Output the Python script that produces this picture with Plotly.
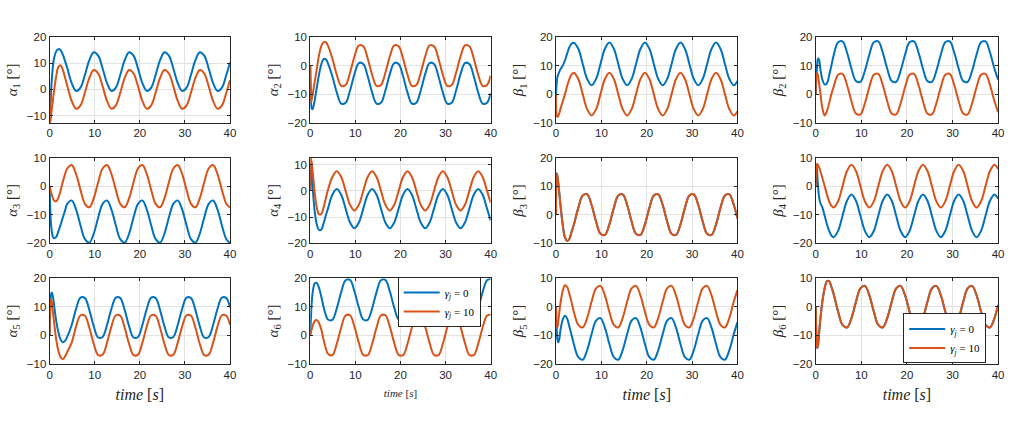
import plotly.graph_objects as go

# time samples [s]
T = [0, 0.15, 0.3, 0.5, 0.75, 1.0, 1.47, 1.96, 2.45, 2.94, 3.43, 3.92,
     4.9, 5.88, 6.86, 7.84, 8.82, 9.8, 10.78, 11.76, 12.74, 13.72, 14.7, 15.68,
     16.66, 17.64, 18.62, 19.6, 20.58, 21.56, 22.54, 23.52, 24.5, 25.48, 26.46,
     27.44, 28.42, 29.4, 30.38, 31.36, 32.34, 33.32, 34.3, 35.28, 36.26, 37.24,
     38.22, 39.2, 40]

# ---- values (degrees); _b: gamma_j = 0, _o: gamma_j = 10
alpha1_b = [0, -8, -2, 4, 9, 12, 14.6, 15.4, 15.0, 13.3, 10.8, 8.2,
            2.4, -0.6, 0.7, 5.6, 11.2, 14.2, 12.9, 8.0,
            2.4, -0.6, 0.7, 5.6, 11.2, 14.2, 12.9, 8.0,
            2.4, -0.6, 0.7, 5.6, 11.2, 14.2, 12.9, 8.0,
            2.4, -0.6, 0.7, 5.6, 11.2, 14.2, 12.9, 8.0,
            2.4, -0.6, 0.7, 5.6, 10.3]
alpha1_o = [0, -12.6, -10.5, -7.5, -4, -0.5, 5, 8.6, 9.2, 7.5, 4.5, 1.4,
            -4.4, -7.4, -6.1, -1.2, 4.4, 7.4, 6.1, 1.2,
            -4.4, -7.4, -6.1, -1.2, 4.4, 7.4, 6.1, 1.2,
            -4.4, -7.4, -6.1, -1.2, 4.4, 7.4, 6.1, 1.2,
            -4.4, -7.4, -6.1, -1.2, 4.4, 7.4, 6.1, 1.2,
            -4.4, -7.4, -6.1, -1.2, 3.5]

alpha2_b = [0, -10, -15, -15.3, -14, -12, -7.5, -3.0, 0.5, 2.3, 2.3, 0.8,
            -3.7, -9.4, -13.3, -13.0, -8.7, -3.0, 0.9, 0.6,
            -3.7, -9.4, -13.3, -13.0, -8.7, -3.0, 0.9, 0.6,
            -3.7, -9.4, -13.3, -13.0, -8.7, -3.0, 0.9, 0.6,
            -3.7, -9.4, -13.3, -13.0, -8.7, -3.0, 0.9, 0.6,
            -3.7, -9.4, -13.3, -13.0, -9.7]
alpha2_o = [0, -13, -12, -10.5, -8, -5.5, -1, 3.8, 6.8, 8.2, 8.2, 7.0,
            2.5, -3.2, -7.1, -6.8, -2.5, 3.2, 7.1, 6.8,
            2.5, -3.2, -7.1, -6.8, -2.5, 3.2, 7.1, 6.8,
            2.5, -3.2, -7.1, -6.8, -2.5, 3.2, 7.1, 6.8,
            2.5, -3.2, -7.1, -6.8, -2.5, 3.2, 7.1, 6.8,
            2.5, -3.2, -7.1, -6.8, -3.5]

beta1_b = [0, 4, 6, 7, 8, 8.8, 10, 11.8, 14.2, 16.5, 17.7, 18.0,
           15.9, 10.6, 5.3, 3.1, 5.3, 10.6, 15.9, 18.1,
           15.9, 10.6, 5.3, 3.1, 5.3, 10.6, 15.9, 18.1,
           15.9, 10.6, 5.3, 3.1, 5.3, 10.6, 15.9, 18.1,
           15.9, 10.6, 5.3, 3.1, 5.3, 10.6, 15.9, 18.1,
           15.9, 10.6, 5.3, 3.1, 4.6]
beta1_o = [0, -7.5, -8, -7.6, -6.5, -5, -2.6, 0, 2.9, 5.3, 6.9, 7.5,
           5.3, 0, -5.3, -7.5, -5.3, 0, 5.3, 7.5,
           5.3, 0, -5.3, -7.5, -5.3, 0, 5.3, 7.5,
           5.3, 0, -5.3, -7.5, -5.3, 0, 5.3, 7.5,
           5.3, 0, -5.3, -7.5, -5.3, 0, 5.3, 7.5,
           5.3, 0, -5.3, -7.5, -6.0]

beta2_b = [0, 6, 10, 12.5, 12, 9, 5, 3.4, 3.8, 6.5, 10, 13.5,
           18.2, 18.5, 14.6, 8.9, 4.6, 4.3, 8.2, 13.9,
           18.2, 18.5, 14.6, 8.9, 4.6, 4.3, 8.2, 13.9,
           18.2, 18.5, 14.6, 8.9, 4.6, 4.3, 8.2, 13.9,
           18.2, 18.5, 14.6, 8.9, 4.6, 4.3, 8.2, 13.9,
           18.2, 18.5, 14.6, 8.9, 5.1]
beta2_o = [0, 7.0, 7.4, 6.5, 3.5, 0.5, -5, -7.5, -6, -3.2, 0, 2.5,
           6.8, 7.1, 3.2, -2.5, -6.8, -7.1, -3.2, 2.5,
           6.8, 7.1, 3.2, -2.5, -6.8, -7.1, -3.2, 2.5,
           6.8, 7.1, 3.2, -2.5, -6.8, -7.1, -3.2, 2.5,
           6.8, 7.1, 3.2, -2.5, -6.8, -7.1, -3.2, 2.5,
           6.8, 7.1, 3.2, -2.5, -6.3]

alpha3_b = [0, -8, -13, -16, -17.8, -18.3, -17.8, -15.8, -13.5, -11.0, -8.5, -6.2,
            -5.0, -8.2, -13.8, -18.6, -19.8, -16.6, -11.0, -6.2,
            -5.0, -8.2, -13.8, -18.6, -19.8, -16.6, -11.0, -6.2,
            -5.0, -8.2, -13.8, -18.6, -19.8, -16.6, -11.0, -6.2,
            -5.0, -8.2, -13.8, -18.6, -19.8, -16.6, -11.0, -6.2,
            -5.0, -8.2, -13.8, -18.6, -19.9]
alpha3_o = [0, -1, -2, -3, -4.2, -5, -5.3, -4.0, -1.5, 1.5, 4.2, 6.2,
            7.4, 4.2, -1.4, -6.2, -7.4, -4.2, 1.4, 6.2,
            7.4, 4.2, -1.4, -6.2, -7.4, -4.2, 1.4, 6.2,
            7.4, 4.2, -1.4, -6.2, -7.4, -4.2, 1.4, 6.2,
            7.4, 4.2, -1.4, -6.2, -7.4, -4.2, 1.4, 6.2,
            7.4, 4.2, -1.4, -6.2, -7.5]

alpha4_b = [0, 10, 7, 2, -3.5, -8, -13, -15.0, -14.8, -12.5, -9.5, -6.8,
            -1.5, 0.7, -1.5, -6.8, -12.1, -14.3, -12.1, -6.8,
            -1.5, 0.7, -1.5, -6.8, -12.1, -14.3, -12.1, -6.8,
            -1.5, 0.7, -1.5, -6.8, -12.1, -14.3, -12.1, -6.8,
            -1.5, 0.7, -1.5, -6.8, -12.1, -14.3, -12.1, -6.8,
            -1.5, 0.7, -1.5, -6.8, -11.3]
alpha4_o = [0, 12.5, 11, 8, 3.5, -1, -6.5, -9.0, -8.8, -6.5, -3.0, 0.3,
            5.3, 7.5, 5.3, 0, -5.3, -7.5, -5.3, 0,
            5.3, 7.5, 5.3, 0, -5.3, -7.5, -5.3, 0,
            5.3, 7.5, 5.3, 0, -5.3, -7.5, -5.3, 0,
            5.3, 7.5, 5.3, 0, -5.3, -7.5, -5.3, 0,
            5.3, 7.5, 5.3, 0, -4.5]

beta3_b = [0, 14.5, 13.5, 11, 7, 3, -3.5, -8, -9.2, -8.5, -6.0, -3.5,
           2.4, 6.7, 7.1, 3.4, -2.4, -6.7, -7.1, -3.4,
           2.4, 6.7, 7.1, 3.4, -2.4, -6.7, -7.1, -3.4,
           2.4, 6.7, 7.1, 3.4, -2.4, -6.7, -7.1, -3.4,
           2.4, 6.7, 7.1, 3.4, -2.4, -6.7, -7.1, -3.4,
           2.4, 6.7, 7.1, 3.4, -1.3]
beta3_o = [0, 14.5, 13.5, 11, 7, 3, -3.5, -8, -9.2, -8.5, -6.0, -3.5,
           2.4, 6.7, 7.1, 3.4, -2.4, -6.7, -7.1, -3.4,
           2.4, 6.7, 7.1, 3.4, -2.4, -6.7, -7.1, -3.4,
           2.4, 6.7, 7.1, 3.4, -2.4, -6.7, -7.1, -3.4,
           2.4, 6.7, 7.1, 3.4, -2.4, -6.7, -7.1, -3.4,
           2.4, 6.7, 7.1, 3.4, -1.3]

beta4_b = [0, 7.5, 5, 0, -4, -5.8, -7.5, -10.4, -13.3, -15.7, -17.3, -17.9,
           -15.7, -10.4, -5.1, -2.9, -5.1, -10.4, -15.7, -17.9,
           -15.7, -10.4, -5.1, -2.9, -5.1, -10.4, -15.7, -17.9,
           -15.7, -10.4, -5.1, -2.9, -5.1, -10.4, -15.7, -17.9,
           -15.7, -10.4, -5.1, -2.9, -5.1, -10.4, -15.7, -17.9,
           -15.7, -10.4, -5.1, -2.9, -4.4]
beta4_o = [0, 7.0, 7.8, 7.4, 6.5, 5.3, 2.8, 0, -2.9, -5.3, -6.9, -7.5,
           -5.3, 0, 5.3, 7.5, 5.3, 0, -5.3, -7.5,
           -5.3, 0, 5.3, 7.5, 5.3, 0, -5.3, -7.5,
           -5.3, 0, 5.3, 7.5, 5.3, 0, -5.3, -7.5,
           -5.3, 0, 5.3, 7.5, 5.3, 0, -5.3, -7.5,
           -5.3, 0, 5.3, 7.5, 6.0]

alpha5_b = [0, 10, 14, 15, 13.5, 10.5, 5, 1, -1.5, -2.5, -2.0, -0.5,
            3.6, 9.3, 13.2, 13.0, 8.8, 3.1, -0.8, -0.6,
            3.6, 9.3, 13.2, 13.0, 8.8, 3.1, -0.8, -0.6,
            3.6, 9.3, 13.2, 13.0, 8.8, 3.1, -0.8, -0.6,
            3.6, 9.3, 13.2, 13.0, 8.8, 3.1, -0.8, -0.6,
            3.6, 9.3, 13.2, 13.0, 9.8]
alpha5_o = [0, 10, 12.7, 11.5, 8, 4.5, -1.5, -5.5, -7.8, -8.4, -7.5, -5.8,
            -2.6, 3.1, 7.0, 6.8, 2.6, -3.1, -7.0, -6.8,
            -2.6, 3.1, 7.0, 6.8, 2.6, -3.1, -7.0, -6.8,
            -2.6, 3.1, 7.0, 6.8, 2.6, -3.1, -7.0, -6.8,
            -2.6, 3.1, 7.0, 6.8, 2.6, -3.1, -7.0, -6.8,
            -2.6, 3.1, 7.0, 6.8, 3.6]

alpha6_b = [0, 6, 11, 14.5, 17, 18.2, 18.3, 16.5, 13.5, 10, 7.2, 5.5,
            5.4, 9.4, 15.1, 19.3, 19.4, 15.4, 9.7, 5.5,
            5.4, 9.4, 15.1, 19.3, 19.4, 15.4, 9.7, 5.5,
            5.4, 9.4, 15.1, 19.3, 19.4, 15.4, 9.7, 5.5,
            5.4, 9.4, 15.1, 19.3, 19.4, 15.4, 9.7, 5.5,
            5.4, 9.4, 15.1, 19.3, 19.7]
alpha6_o = [0, 1, 2, 3, 4.2, 5.0, 5.3, 4.2, 2, -1.5, -4.5, -6.5,
            -7.0, -3.0, 2.7, 6.9, 7.0, 3.0, -2.7, -6.9,
            -7.0, -3.0, 2.7, 6.9, 7.0, 3.0, -2.7, -6.9,
            -7.0, -3.0, 2.7, 6.9, 7.0, 3.0, -2.7, -6.9,
            -7.0, -3.0, 2.7, 6.9, 7.0, 3.0, -2.7, -6.9,
            -7.0, -3.0, 2.7, 6.9, 7.3]

beta5_b = [0, -8, -11.5, -12.5, -11, -8, -4.5, -3.2, -4.2, -7.0, -10.0, -13.1,
           -17.7, -18.6, -15.2, -9.6, -4.9, -4.0, -7.4, -13.1,
           -17.7, -18.6, -15.2, -9.6, -4.9, -4.0, -7.4, -13.1,
           -17.7, -18.6, -15.2, -9.6, -4.9, -4.0, -7.4, -13.1,
           -17.7, -18.6, -15.2, -9.6, -4.9, -4.0, -7.4, -13.1,
           -17.7, -18.6, -15.2, -9.6, -5.5]
beta5_o = [0, -7, -7.3, -5, -1.5, 1.5, 5.5, 7.5, 6.9, 4.5, 1.5, -1.8,
           -6.4, -7.3, -3.9, 1.8, 6.4, 7.3, 3.9, -1.8,
           -6.4, -7.3, -3.9, 1.8, 6.4, 7.3, 3.9, -1.8,
           -6.4, -7.3, -3.9, 1.8, 6.4, 7.3, 3.9, -1.8,
           -6.4, -7.3, -3.9, 1.8, 6.4, 7.3, 3.9, -1.8,
           -6.4, -7.3, -3.9, 1.8, 5.8]

beta6_b = [0, -10, -14.5, -13.5, -9, -4.5, 2, 6.5, 8.9, 9.0, 7.0, 4.5,
           -1.7, -6.4, -7.3, -4.0, 1.7, 6.4, 7.3, 4.0,
           -1.7, -6.4, -7.3, -4.0, 1.7, 6.4, 7.3, 4.0,
           -1.7, -6.4, -7.3, -4.0, 1.7, 6.4, 7.3, 4.0,
           -1.7, -6.4, -7.3, -4.0, 1.7, 6.4, 7.3, 4.0,
           -1.7, -6.4, -7.3, -4.0, 0.6]
beta6_o = [0, -10, -14.5, -13.5, -9, -4.5, 2, 6.5, 8.9, 9.0, 7.0, 4.5,
           -1.7, -6.4, -7.3, -4.0, 1.7, 6.4, 7.3, 4.0,
           -1.7, -6.4, -7.3, -4.0, 1.7, 6.4, 7.3, 4.0,
           -1.7, -6.4, -7.3, -4.0, 1.7, 6.4, 7.3, 4.0,
           -1.7, -6.4, -7.3, -4.0, 1.7, 6.4, 7.3, 4.0,
           -1.7, -6.4, -7.3, -4.0, 0.6]

Y_LABELS = ["α1", "α2", "β1", "β2", "α3", "α4", "β3", "β4", "α5", "α6", "β5", "β6"]
Y_RANGES = [[-12.7, 20], [-20, 10], [-10, 20], [-10, 20],
            [-20, 10], [-20, 12.7], [-10, 20], [-20, 10],
            [-10, 20], [-10, 20], [-20, 10], [-20, 10]]
LEGEND_LABELS = ["<i>γ<sub>j</sub></i> = 0", "<i>γ<sub>j</sub></i> = 10"]
X_TITLE = "<i>time</i> [<i>s</i>]"

BLUE_SERIES = [alpha1_b, alpha2_b, beta1_b, beta2_b, alpha3_b, alpha4_b,
               beta3_b, beta4_b, alpha5_b, alpha6_b, beta5_b, beta6_b]
ORANGE_SERIES = [alpha1_o, alpha2_o, beta1_o, beta2_o, alpha3_o, alpha4_o,
                 beta3_o, beta4_o, alpha5_o, alpha6_o, beta5_o, beta6_o]

# ---- layout geometry (pixels)
W, H = 1016, 430
COLS = [(47, 229), (310, 492), (558, 741), (820, 1004)]
ROWS = [(32, 120), (156, 244), (280, 368)]
BLUE = "#0072BD"
ORANGE = "#D95319"
AX = "#262626"
GRID = "#e2e2e2"
SERIF = "Liberation Serif, Times New Roman, serif"
SANS = "Liberation Sans, Arial, sans-serif"

fig = go.Figure()
layout = {}
for i in range(12):
    r, c = divmod(i, 4)
    n = "" if i == 0 else str(i + 1)
    legend_name = None
    if i == 9:
        legend_name = "legend"
    elif i == 11:
        legend_name = "legend2"
    for series, color, lab in ((BLUE_SERIES[i], BLUE, LEGEND_LABELS[0]),
                               (ORANGE_SERIES[i], ORANGE, LEGEND_LABELS[1])):
        kw = dict(x=T, y=series, mode="lines", name=lab,
                  xaxis="x" + n, yaxis="y" + n,
                  line=dict(color=color, width=2, shape="spline", smoothing=1),
                  hoverinfo="skip")
        if legend_name:
            kw["showlegend"] = True
            kw["legend"] = legend_name
        else:
            kw["showlegend"] = False
        fig.add_trace(go.Scatter(**kw))

    x0, x1 = COLS[c]
    y0, y1 = ROWS[r]
    common = dict(showline=True, mirror="ticks", linecolor=AX, linewidth=1,
                  ticks="inside", ticklen=3, tickcolor=AX, tickwidth=1,
                  showgrid=True, gridcolor=GRID, gridwidth=1, zeroline=False,
                  tickfont=dict(family=SANS, size=11.5, color=AX), dtick=10)
    xa = dict(common, domain=[x0 / W, x1 / W], range=[0, 40], anchor="y" + n,
              tick0=0)
    if r == 2:
        xa["title"] = dict(text=X_TITLE, standoff=9,
                           font=dict(family=SERIF, size=11 if c == 1 else 16,
                                     color=AX))
    lab = Y_LABELS[i]
    ya = dict(common, domain=[1 - y1 / H, 1 - y0 / H], range=Y_RANGES[i],
              anchor="x" + n, tick0=0,
              title=dict(text="<i>%s</i><sub>%s</sub> [°]" % (lab[0], lab[1]),
                         standoff=5,
                         font=dict(family=SERIF, size=15, color=AX)))
    layout["xaxis" + n] = xa
    layout["yaxis" + n] = ya

fig.update_layout(**layout)
fig.update_layout(
    width=W, height=H,
    margin=dict(l=0, r=0, t=0, b=0),
    paper_bgcolor="white", plot_bgcolor="white",
    legend=dict(x=482 / W, y=1 - 304.5 / H, xanchor="right", yanchor="middle",
                bgcolor="white", bordercolor=AX, borderwidth=1,
                font=dict(family=SERIF, size=11, color="black"),
                tracegroupgap=0, itemwidth=36),
    legend2=dict(x=992 / W, y=1 - 342 / H, xanchor="right", yanchor="middle",
                 bgcolor="white", bordercolor=AX, borderwidth=1,
                 font=dict(family=SERIF, size=11, color="black"),
                 tracegroupgap=0, itemwidth=36),
)

fig.write_html("out.html")
